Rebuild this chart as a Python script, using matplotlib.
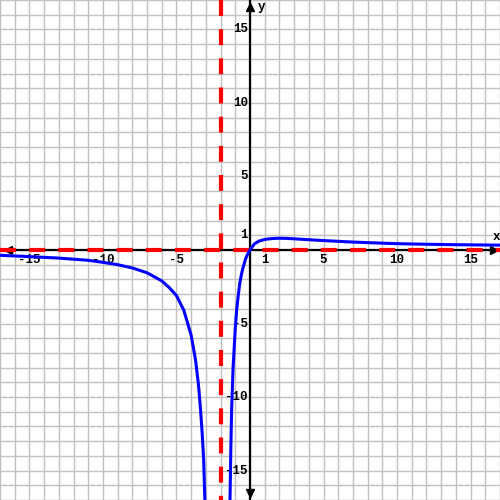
import matplotlib
matplotlib.use('Agg')
import matplotlib.pyplot as plt

plt.rcParams['lines.scale_dashes'] = False

# -----------------------------------
# Data
# -----------------------------------
left_x = [-17, -15, -13, -11, -10, -9, -8, -7, -6, -5.5, -5, -4.5, -4.0,
          -3.7, -3.5, -3.36, -3.25, -3.15, -3.07, -3.02]
left_y = [-0.36, -0.45, -0.55, -0.70, -0.84, -1.0, -1.22, -1.55, -2.1, -2.55,
          -3.1, -4.1, -5.8, -7.5, -9.2, -10.9, -12.5, -14.3, -17.0, -18.0]

right_x = [-1.40, -1.36, -1.30, -1.25, -1.15, -1.0, -0.9, -0.8, -0.7, -0.6,
           -0.5, -0.3, -0.1, 0, 0.3, 0.6, 1.0, 1.5, 2.0, 2.5, 3, 4, 5, 6, 7,
           8, 10, 12, 14, 17]
right_y = [-18.5, -17.0, -13.3, -10.9, -8.0, -5.3, -4.0, -3.1, -2.3, -1.75,
           -1.3, -0.6, -0.15, 0.0, 0.42, 0.6, 0.72, 0.78, 0.80, 0.79, 0.76,
           0.70, 0.64, 0.59, 0.54, 0.50, 0.43, 0.39, 0.36, 0.33]

v_asymptote = -2
h_asymptote = 0

tick_vals = [-15, -10, -5, 1, 5, 10, 15]
lim = 17

# -----------------------------------
# Figure
# -----------------------------------
fig = plt.figure(figsize=(5, 5), dpi=100)
ax = fig.add_axes([0, 0, 1, 1])
ax.set_xlim(-lim, lim)
ax.set_ylim(-lim, lim)
ax.axis('off')

# grid every unit
for v in range(-lim, lim + 1):
    ax.axvline(v, color='#c0c0c0', lw=1, zorder=0)
    ax.axhline(v, color='#c0c0c0', lw=1, zorder=0)

# axes with arrowheads
ax.plot([-lim, lim], [0, 0], color='black', lw=1.6, zorder=2)
ax.plot([0, 0], [-lim, lim], color='black', lw=1.6, zorder=2)
ax.plot([-16.45], [0], marker='<', color='black', ms=6, zorder=2)
ax.plot([16.6], [0], marker='>', color='black', ms=6, zorder=2)
ax.plot([0], [16.55], marker='^', color='black', ms=6, zorder=2)
ax.plot([0], [-16.5], marker='v', color='black', ms=6, zorder=2)

font = dict(family='Liberation Mono', weight='bold', size=9)
ax.text(16.5, 0.45, 'x', ha='left', va='bottom', **font)
ax.text(0.5, 16.5, 'y', ha='left', va='center', **font)

for t in tick_vals:
    ax.text(t, -0.25, str(t), ha='center', va='top', **font)
    ax.text(-0.15, t, str(t), ha='right', va='center', **font)

# asymptotes
ax.plot([-lim, lim], [h_asymptote, h_asymptote], color='red', lw=3,
        dashes=(11.5, 9.5), zorder=3)
ax.plot([v_asymptote, v_asymptote], [lim, -lim], color='red', lw=3,
        dashes=(11.5, 9.5), zorder=3)

# curve
ax.plot(left_x, left_y, color='blue', lw=2.2, zorder=4)
ax.plot(right_x, right_y, color='blue', lw=2.2, zorder=4)

fig.savefig('out.png', dpi=100)
